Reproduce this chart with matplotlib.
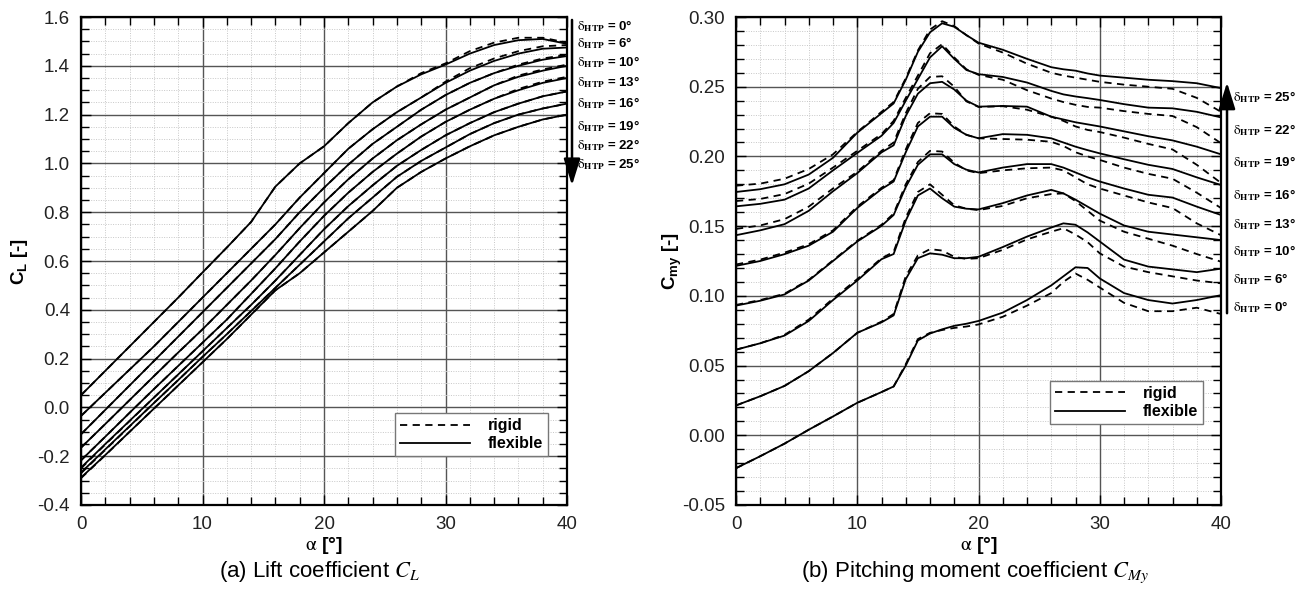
import matplotlib
matplotlib.use("Agg")
import matplotlib.pyplot as plt
from matplotlib.ticker import MultipleLocator, FormatStrFormatter

# ---------------- data ----------------
alpha_cl = [0, 2, 4, 6, 8, 10, 12, 14, 16, 18, 20, 22, 24, 26, 28, 30, 32, 34, 36, 38, 40]

cl_flex_0 = [0.05, 0.15, 0.25, 0.35, 0.45, 0.553, 0.655, 0.76, 0.905, 1.0, 1.07, 1.165, 1.25, 1.315, 1.365, 1.405, 1.45, 1.485, 1.505, 1.51, 1.49]
cl_flex_6 = [-0.035, 0.06, 0.155, 0.25, 0.35, 0.45, 0.55, 0.65, 0.75, 0.86, 0.96, 1.06, 1.14, 1.21, 1.27, 1.33, 1.38, 1.42, 1.45, 1.47, 1.475]
cl_flex_10 = [-0.11, -0.01, 0.09, 0.19, 0.29, 0.39, 0.49, 0.59, 0.69, 0.80, 0.90, 0.995, 1.08, 1.15, 1.22, 1.28, 1.33, 1.37, 1.40, 1.425, 1.44]
cl_flex_13 = [-0.165, -0.068, 0.03, 0.128, 0.225, 0.32, 0.42, 0.52, 0.625, 0.735, 0.84, 0.935, 1.02, 1.095, 1.16, 1.22, 1.27, 1.32, 1.355, 1.38, 1.40]
cl_flex_16 = [-0.217, -0.12, -0.022, 0.075, 0.17, 0.265, 0.36, 0.465, 0.57, 0.68, 0.785, 0.88, 0.965, 1.04, 1.11, 1.17, 1.22, 1.265, 1.30, 1.33, 1.35]
cl_flex_19 = [-0.247, -0.15, -0.055, 0.04, 0.135, 0.23, 0.325, 0.42, 0.52, 0.625, 0.73, 0.825, 0.91, 0.99, 1.055, 1.115, 1.165, 1.21, 1.245, 1.275, 1.295]
cl_flex_22 = [-0.267, -0.172, -0.077, 0.018, 0.112, 0.207, 0.30, 0.395, 0.49, 0.585, 0.68, 0.775, 0.86, 0.945, 1.01, 1.065, 1.12, 1.165, 1.20, 1.225, 1.245]
cl_flex_25 = [-0.288, -0.195, -0.10, -0.005, 0.09, 0.185, 0.28, 0.38, 0.48, 0.55, 0.635, 0.72, 0.805, 0.90, 0.965, 1.02, 1.07, 1.115, 1.15, 1.18, 1.20]

cl_rig_0 = [0.05, 0.15, 0.25, 0.35, 0.45, 0.553, 0.655, 0.76, 0.905, 1.0, 1.07, 1.165, 1.25, 1.315, 1.37, 1.41, 1.46, 1.495, 1.515, 1.515, 1.495]
cl_rig_6 = [-0.035, 0.06, 0.155, 0.25, 0.35, 0.45, 0.55, 0.65, 0.75, 0.86, 0.96, 1.06, 1.14, 1.21, 1.27, 1.335, 1.39, 1.43, 1.46, 1.48, 1.485]
cl_rig_10 = [-0.11, -0.01, 0.09, 0.19, 0.29, 0.39, 0.49, 0.59, 0.69, 0.80, 0.90, 0.995, 1.08, 1.15, 1.22, 1.28, 1.33, 1.37, 1.405, 1.43, 1.445]
cl_rig_13 = [-0.165, -0.068, 0.03, 0.128, 0.225, 0.32, 0.42, 0.52, 0.625, 0.735, 0.84, 0.935, 1.02, 1.095, 1.16, 1.22, 1.27, 1.32, 1.36, 1.385, 1.405]
cl_rig_16 = [-0.217, -0.12, -0.022, 0.075, 0.17, 0.265, 0.36, 0.465, 0.57, 0.68, 0.785, 0.88, 0.965, 1.04, 1.11, 1.17, 1.22, 1.265, 1.305, 1.335, 1.355]
cl_rig_19 = [-0.25, -0.152, -0.056, 0.04, 0.135, 0.23, 0.325, 0.42, 0.52, 0.625, 0.73, 0.825, 0.91, 0.99, 1.055, 1.115, 1.165, 1.21, 1.245, 1.275, 1.295]
cl_rig_22 = [-0.27, -0.174, -0.078, 0.018, 0.112, 0.207, 0.30, 0.395, 0.49, 0.585, 0.68, 0.775, 0.86, 0.945, 1.01, 1.065, 1.12, 1.165, 1.20, 1.225, 1.245]
cl_rig_25 = [-0.29, -0.196, -0.10, -0.005, 0.09, 0.185, 0.28, 0.38, 0.48, 0.55, 0.635, 0.72, 0.805, 0.90, 0.965, 1.02, 1.07, 1.115, 1.15, 1.18, 1.20]

alpha_cm = [0, 2, 4, 6, 8, 10, 12, 13, 14, 15, 16, 17, 18, 19, 20, 22, 24, 26, 27, 28, 29, 30, 32, 34, 36, 38, 40]

cm_flex_25 = [0.1745, 0.1765, 0.180, 0.187, 0.199, 0.217, 0.231, 0.238, 0.255, 0.275, 0.289, 0.2955, 0.293, 0.287, 0.2816, 0.2765, 0.270, 0.264, 0.2625, 0.2615, 0.2595, 0.258, 0.2565, 0.255, 0.254, 0.2525, 0.249]
cm_rig_25 = [0.179, 0.1805, 0.184, 0.191, 0.2015, 0.2175, 0.232, 0.239, 0.256, 0.276, 0.291, 0.297, 0.2935, 0.287, 0.281, 0.2745, 0.2665, 0.260, 0.258, 0.2565, 0.255, 0.2535, 0.2515, 0.250, 0.2485, 0.242, 0.232]
cm_flex_22 = [0.1642, 0.166, 0.169, 0.177, 0.19, 0.2025, 0.2148, 0.224, 0.240, 0.2555, 0.271, 0.279, 0.270, 0.262, 0.259, 0.257, 0.253, 0.247, 0.2445, 0.243, 0.2418, 0.2405, 0.2375, 0.235, 0.2345, 0.232, 0.228]
cm_rig_22 = [0.168, 0.1695, 0.173, 0.1805, 0.192, 0.204, 0.216, 0.2255, 0.242, 0.258, 0.274, 0.2805, 0.271, 0.2625, 0.2585, 0.255, 0.2475, 0.2415, 0.239, 0.237, 0.2355, 0.235, 0.2325, 0.2305, 0.229, 0.221, 0.2095]
cm_flex_19 = [0.1435, 0.147, 0.1514, 0.161, 0.175, 0.188, 0.2029, 0.208, 0.229, 0.245, 0.2525, 0.2535, 0.248, 0.240, 0.2357, 0.2362, 0.2357, 0.2285, 0.2265, 0.2245, 0.223, 0.2215, 0.218, 0.2145, 0.2115, 0.207, 0.2015]
cm_rig_19 = [0.148, 0.1505, 0.155, 0.164, 0.177, 0.189, 0.204, 0.210, 0.231, 0.2485, 0.257, 0.2575, 0.250, 0.2395, 0.2355, 0.236, 0.2335, 0.2285, 0.2255, 0.2215, 0.219, 0.2175, 0.2135, 0.209, 0.205, 0.194, 0.181]
cm_flex_16 = [0.1215, 0.125, 0.1299, 0.136, 0.146, 0.163, 0.1766, 0.182, 0.203, 0.2215, 0.2285, 0.2285, 0.2205, 0.2155, 0.213, 0.216, 0.2155, 0.213, 0.210, 0.207, 0.2045, 0.2022, 0.198, 0.194, 0.191, 0.185, 0.1795]
cm_rig_16 = [0.1225, 0.126, 0.131, 0.137, 0.147, 0.164, 0.1775, 0.183, 0.205, 0.224, 0.231, 0.2305, 0.2215, 0.2155, 0.213, 0.2125, 0.212, 0.2105, 0.2075, 0.203, 0.200, 0.1975, 0.192, 0.1875, 0.184, 0.174, 0.163]
cm_flex_13 = [0.093, 0.0965, 0.101, 0.111, 0.125, 0.139, 0.1502, 0.158, 0.178, 0.194, 0.2015, 0.2015, 0.1945, 0.1905, 0.1885, 0.192, 0.1945, 0.1945, 0.192, 0.1885, 0.185, 0.182, 0.177, 0.1725, 0.1705, 0.164, 0.158]
cm_rig_13 = [0.0935, 0.097, 0.1015, 0.1115, 0.1255, 0.1395, 0.151, 0.159, 0.180, 0.196, 0.204, 0.2035, 0.1955, 0.190, 0.188, 0.190, 0.1915, 0.192, 0.190, 0.185, 0.180, 0.177, 0.172, 0.167, 0.163, 0.152, 0.1435]
cm_flex_10 = [0.0614, 0.066, 0.0715, 0.082, 0.097, 0.111, 0.1263, 0.130, 0.154, 0.172, 0.177, 0.170, 0.164, 0.1625, 0.162, 0.1665, 0.172, 0.176, 0.1735, 0.169, 0.164, 0.159, 0.1505, 0.146, 0.144, 0.142, 0.140]
cm_rig_10 = [0.0614, 0.066, 0.072, 0.083, 0.098, 0.112, 0.127, 0.1315, 0.156, 0.1745, 0.180, 0.1725, 0.165, 0.1625, 0.1615, 0.1645, 0.170, 0.173, 0.1735, 0.168, 0.161, 0.154, 0.146, 0.141, 0.136, 0.130, 0.1245]
cm_flex_6 = [0.0214, 0.028, 0.0354, 0.046, 0.059, 0.0735, 0.081, 0.086, 0.112, 0.127, 0.1305, 0.1295, 0.127, 0.127, 0.128, 0.135, 0.1425, 0.149, 0.152, 0.151, 0.1455, 0.139, 0.126, 0.121, 0.119, 0.117, 0.1195]
cm_rig_6 = [0.0214, 0.028, 0.0354, 0.046, 0.059, 0.0735, 0.0815, 0.087, 0.114, 0.129, 0.1335, 0.1325, 0.128, 0.1265, 0.127, 0.133, 0.1405, 0.146, 0.1485, 0.144, 0.1385, 0.1305, 0.121, 0.117, 0.114, 0.111, 0.109]
cm_flex_0 = [-0.0236, -0.015, -0.006, 0.004, 0.0135, 0.0233, 0.031, 0.035, 0.050, 0.068, 0.073, 0.076, 0.0785, 0.080, 0.082, 0.088, 0.097, 0.1075, 0.114, 0.1205, 0.120, 0.1125, 0.102, 0.097, 0.0945, 0.097, 0.1005]
cm_rig_0 = [-0.0236, -0.015, -0.006, 0.004, 0.0135, 0.0233, 0.031, 0.035, 0.051, 0.069, 0.0735, 0.0755, 0.077, 0.078, 0.0795, 0.085, 0.093, 0.102, 0.110, 0.116, 0.1115, 0.106, 0.095, 0.089, 0.089, 0.0915, 0.087]

cl_flex = [cl_flex_0, cl_flex_6, cl_flex_10, cl_flex_13, cl_flex_16, cl_flex_19, cl_flex_22, cl_flex_25]
cl_rig = [cl_rig_0, cl_rig_6, cl_rig_10, cl_rig_13, cl_rig_16, cl_rig_19, cl_rig_22, cl_rig_25]
cm_flex = [cm_flex_25, cm_flex_22, cm_flex_19, cm_flex_16, cm_flex_13, cm_flex_10, cm_flex_6, cm_flex_0]
cm_rig = [cm_rig_25, cm_rig_22, cm_rig_19, cm_rig_16, cm_rig_13, cm_rig_10, cm_rig_6, cm_rig_0]

deltas_left = ["0°", "6°", "10°", "13°", "16°", "19°", "22°", "25°"]
deltas_right = ["25°", "22°", "19°", "16°", "13°", "10°", "6°", "0°"]
legend_labels = ["rigid", "flexible"]
captions = [r"(a) Lift coefficient $C_L$", r"(b) Pitching moment coefficient $C_{My}$"]

# ---------------- style ----------------
plt.rcParams['font.family'] = ['Liberation Sans', 'DejaVu Sans']
plt.rcParams['mathtext.fontset'] = 'custom'
plt.rcParams['mathtext.rm'] = 'Liberation Sans'
plt.rcParams['mathtext.bf'] = 'Liberation Sans:bold'
plt.rcParams['mathtext.it'] = 'Liberation Sans:italic'

fig = plt.figure(figsize=(13.01, 6.07), dpi=100)
axL = fig.add_axes([0.06226, 0.16804, 0.37356, 0.80395])
axR = fig.add_axes([0.56572, 0.16804, 0.37279, 0.80395])


def style_axes(ax, ymaj, ymin, ylim, fmt):
    ax.set_xlim(0, 40)
    ax.set_ylim(*ylim)
    ax.xaxis.set_major_locator(MultipleLocator(10))
    ax.xaxis.set_minor_locator(MultipleLocator(2))
    ax.yaxis.set_major_locator(MultipleLocator(ymaj))
    ax.yaxis.set_minor_locator(MultipleLocator(ymin))
    ax.yaxis.set_major_formatter(FormatStrFormatter(fmt))
    ax.set_axisbelow(True)
    ax.grid(which='minor', linestyle=(0, (1, 1.5)), color='#c8c8c8', linewidth=0.7)
    ax.grid(which='major', linestyle='-', color='#555555', linewidth=1.0)
    ax.tick_params(which='both', direction='in', top=True, right=True,
                   labelsize=13.5, labelcolor='#222222', pad=8)
    ax.tick_params(which='major', length=7, width=1)
    ax.tick_params(which='minor', length=6, width=1)
    for s in ax.spines.values():
        s.set_linewidth(1.6)
        s.set_color('black')


style_axes(axL, 0.2, 0.05, (-0.4, 1.6), '%.1f')
style_axes(axR, 0.05, 0.01, (-0.05, 0.30), '%.2f')

lw = 1.3
for i in range(len(cl_flex)):
    axL.plot(alpha_cl, cl_rig[i], color='black', lw=lw, linestyle=(0, (4, 3)),
             label=legend_labels[0] if i == 0 else None)
    axL.plot(alpha_cl, cl_flex[i], color='black', lw=lw, linestyle='-',
             label=legend_labels[1] if i == 0 else None)
for i in range(len(cm_flex)):
    axR.plot(alpha_cm, cm_rig[i], color='black', lw=lw, linestyle=(0, (4, 3)),
             label=legend_labels[0] if i == 0 else None)
    axR.plot(alpha_cm, cm_flex[i], color='black', lw=lw, linestyle='-',
             label=legend_labels[1] if i == 0 else None)

for ax, anchor in ((axL, (0.961, 0.100)), (axR, (0.963, 0.166))):
    leg = ax.legend(loc='lower right', bbox_to_anchor=anchor, borderaxespad=0,
                    fancybox=False, framealpha=1, edgecolor='#777777',
                    handlelength=4.4, handletextpad=1.1, borderpad=0.3,
                    labelspacing=0.2, prop={'weight': 'bold', 'size': 11.5})
    leg.get_frame().set_linewidth(1.0)

# axis labels
axL.set_ylabel(r'$\mathbf{C_L}$ [-]', fontsize=13.5, fontweight='bold')
axR.set_ylabel(r'$\mathbf{C_{my}}$ [-]', fontsize=13.5, fontweight='bold')
axL.yaxis.set_label_coords(-0.105, 0.5)
axR.yaxis.set_label_coords(-0.108, 0.5)
for ax in (axL, axR):
    ax.set_xlabel(r'$\mathrm{\alpha}$ [°]', fontsize=14, fontweight='bold', math_fontfamily='stix')
    ax.xaxis.set_label_coords(0.5, -0.062)

# delta annotations with arrows
axL.annotate('', xy=(1.0103, 0.655), xytext=(1.0103, 0.994), xycoords='axes fraction',
             annotation_clip=False,
             arrowprops=dict(arrowstyle='-|>,head_length=0.9,head_width=0.28',
                             color='black', lw=1.8, mutation_scale=18, shrinkA=0, shrinkB=0))
ypos_left = [26, 43, 62, 82, 103, 126, 145, 164]
for lab, yp in zip(deltas_left, ypos_left):
    axL.text(1.021, 1 - (yp - 17) / 488.0, r'$\mathrm{\delta}_{\mathbf{HTP}}$ = ' + lab,
             transform=axL.transAxes, fontsize=9.5, fontweight='bold',
             va='center', ha='left', math_fontfamily='stix', clip_on=False)

axR.annotate('', xy=(1.0124, 0.866), xytext=(1.0124, 0.393), xycoords='axes fraction',
             annotation_clip=False,
             arrowprops=dict(arrowstyle='-|>,head_length=0.9,head_width=0.28',
                             color='black', lw=1.8, mutation_scale=18, shrinkA=0, shrinkB=0))
ypos_right = [97, 130, 162, 195, 224, 251, 279, 307]
for lab, yp in zip(deltas_right, ypos_right):
    axR.text(1.024, 1 - (yp - 17) / 488.0, r'$\mathrm{\delta}_{\mathbf{HTP}}$ = ' + lab,
             transform=axR.transAxes, fontsize=9.5, fontweight='bold',
             va='center', ha='left', math_fontfamily='stix', clip_on=False)

# captions
fig.text(0.246, 0.0577, captions[0], ha='center', va='center', fontsize=16,
         math_fontfamily='stix')
fig.text(0.7494, 0.0577, captions[1], ha='center', va='center', fontsize=16,
         math_fontfamily='stix')

fig.savefig('out.png', dpi=100)
